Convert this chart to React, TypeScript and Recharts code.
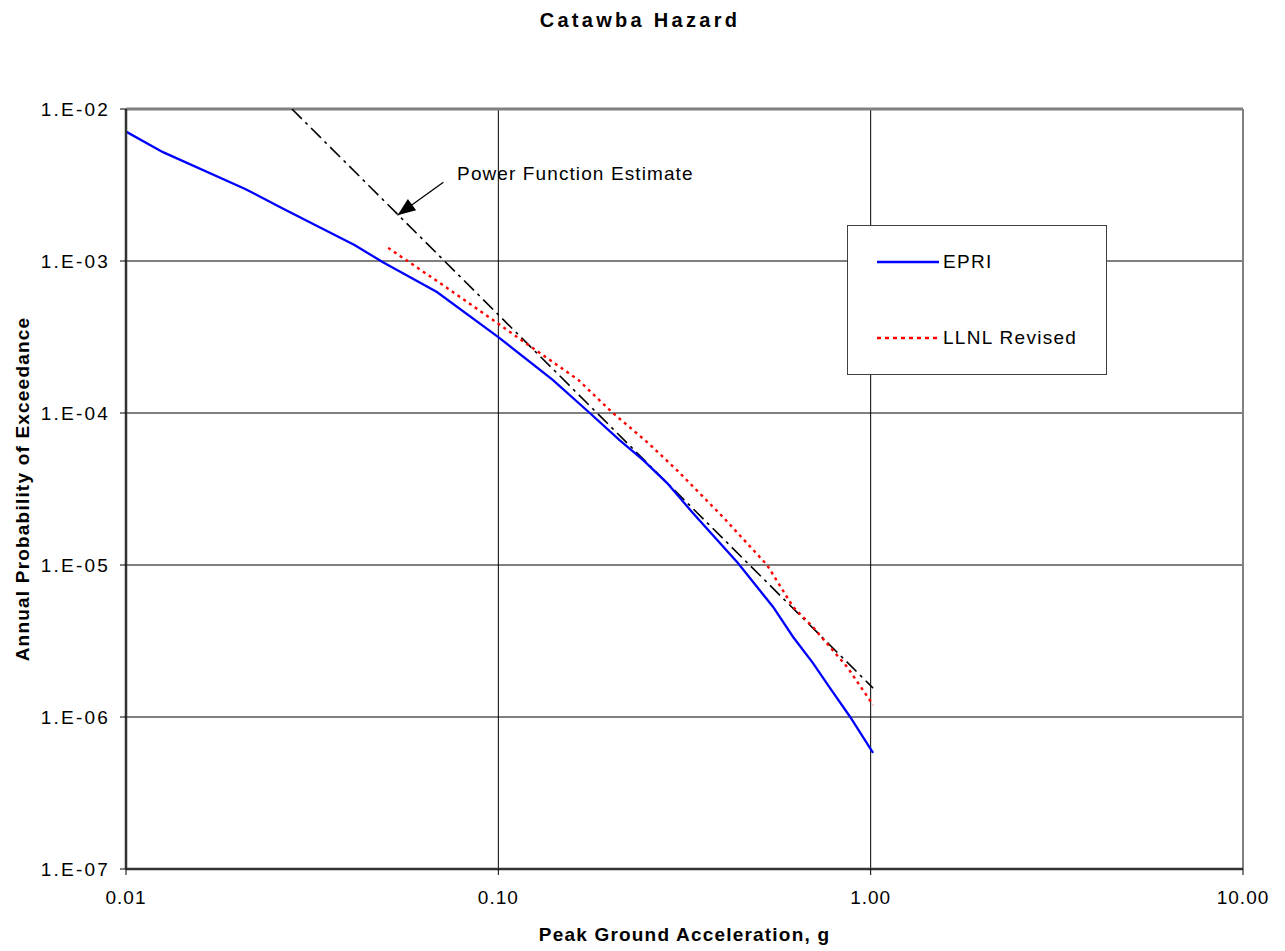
import React from 'react';
import {
    LineChart,
    Line,
    XAxis,
    YAxis,
    CartesianGrid,
    ReferenceLine,
    ReferenceDot,
} from 'recharts';

// EPRI hazard curve (peak ground acceleration, g / annual probability)
const epriX = [0.01, 0.01257, 0.0209, 0.0262, 0.0412, 0.049, 0.0684, 0.1, 0.14, 0.176, 0.212, 0.245, 0.284, 0.333, 0.44, 0.547, 0.619, 0.7, 0.778, 0.881, 1.015];
const epriY = [7.1e-3, 5.2e-3, 2.98e-3, 2.23e-3, 1.27e-3, 9.8e-4, 6.25e-4, 3.16e-4, 1.65e-4, 1.0e-4, 6.6e-5, 4.9e-5, 3.46e-5, 2.2e-5, 1.03e-5, 5.3e-6, 3.36e-6, 2.26e-6, 1.55e-6, 1.0e-6, 5.8e-7];

// LLNL revised curve
const llnlX = [0.0506, 0.0742, 0.1075, 0.164, 0.203, 0.251, 0.302, 0.401, 0.527, 0.619, 0.7, 0.865, 1.015];
const llnlY = [1.22e-3, 6.45e-4, 3.41e-4, 1.65e-4, 1.0e-4, 6.44e-5, 4.2e-5, 2.07e-5, 1.0e-5, 5.3e-6, 3.9e-6, 2.13e-6, 1.2e-6];

// power function estimate (straight on log-log, two end points)
const powerX = [0.0279, 1.015];
const powerY = [1.0e-2, 1.55e-6];

const xTicks = [0.01, 0.1, 1, 10];
const xTickLabels = ['0.01', '0.10', '1.00', '10.00'];
const yTicks = [1e-7, 1e-6, 1e-5, 1e-4, 1e-3, 1e-2];
const yTickLabels = ['1.E-07', '1.E-06', '1.E-05', '1.E-04', '1.E-03', '1.E-02'];

// annotation anchor points
const arrowTip = { x: 0.0536, y: 2.0e-3 };
const arrowTail = { x: 0.0712, y: 3.3e-3 };
const noteAt = { x: 0.0775, y: 3.79e-3 };
const noteText = 'Power Function Estimate';

const toPoints = (xs: number[], ys: number[]) => xs.map((x, i) => ({ x, y: ys[i] }));

const epriData = toPoints(epriX, epriY);
const llnlData = toPoints(llnlX, llnlY);
const powerData = toPoints(powerX, powerY);

const FONT = '"Liberation Sans", Arial, sans-serif';

const ArrowHead = (props: any) => {
    const { cx, cy } = props;
    // pointing from tail toward tip (down-left)
    const ang = Math.atan2(-33, 45);
    const len = 18;
    const half = 7;
    const bx = cx + Math.cos(ang) * len;
    const by = cy + Math.sin(ang) * len;
    const px = -Math.sin(ang) * half;
    const py = Math.cos(ang) * half;
    return (
        <polygon
            points={`${cx},${cy} ${bx + px},${by + py} ${bx - px},${by - py}`}
            fill="#000"
        />
    );
};

const NoteText = (props: any) => (
    <text
        x={props.cx}
        y={props.cy}
        dominantBaseline="central"
        fontSize={19}
        letterSpacing={1.1}
        fill="#000"
        fontFamily={FONT}
    >
        {noteText}
    </text>
);

const legendItems = [
    { name: 'EPRI', color: '#0000ff', dash: undefined, top: 36 },
    { name: 'LLNL Revised', color: '#ff0000', dash: '4 4', top: 112 },
];

const App: React.FC = () => {
    return (
        <div style={{ position: 'absolute', left: 0, top: 0, width: 1285, height: 951, background: '#fff', fontFamily: FONT }}>
            <div
                style={{
                    position: 'absolute',
                    left: 0,
                    top: 10,
                    width: 1280,
                    textAlign: 'center',
                    fontSize: 20,
                    lineHeight: '20px',
                    fontWeight: 'bold',
                    letterSpacing: 3.3,
                }}
            >
                Catawba Hazard
            </div>
            <LineChart
                width={1285}
                height={951}
                margin={{ top: 109, right: 42, bottom: 0, left: 0 }}
                style={{ fontFamily: FONT }}
            >
                <CartesianGrid stroke="#000" strokeWidth={1} horizontalValues={yTicks} verticalValues={xTicks} />
                <XAxis
                    dataKey="x"
                    type="number"
                    scale="log"
                    domain={[0.01, 10]}
                    ticks={xTicks}
                    allowDataOverflow
                    height={82}
                    tickSize={6}
                    tickMargin={16}
                    tickFormatter={(v: number, i: number) => xTickLabels[i]}
                    tick={{ fill: '#000', fontSize: 19, letterSpacing: 1 }}
                    axisLine={{ stroke: '#333', strokeWidth: 2.5 }}
                    tickLine={{ stroke: '#000' }}
                    label={{
                        value: 'Peak Ground Acceleration, g',
                        position: 'insideBottom',
                        offset: 10,
                        style: { fontWeight: 'bold', fontSize: 19, letterSpacing: 1.2, fill: '#000' },
                    }}
                />
                <YAxis
                    type="number"
                    scale="log"
                    domain={[1e-7, 1e-2]}
                    ticks={yTicks}
                    allowDataOverflow
                    width={126}
                    tickSize={6}
                    tickMargin={10}
                    tickFormatter={(v: number, i: number) => yTickLabels[i]}
                    tick={{ fill: '#000', fontSize: 19, letterSpacing: 2.2 }}
                    axisLine={{ stroke: '#333', strokeWidth: 2.5 }}
                    tickLine={{ stroke: '#000' }}
                    label={{
                        value: 'Annual Probability of Exceedance',
                        angle: -90,
                        position: 'insideLeft',
                        offset: 22,
                        style: { textAnchor: 'middle', fontWeight: 'bold', fontSize: 19, letterSpacing: 1.2, fill: '#000' },
                    }}
                />
                <ReferenceLine y={1e-2} stroke="#808080" strokeWidth={3} />
                <ReferenceLine x={10} stroke="#808080" strokeWidth={2} />
                <Line
                    data={powerData}
                    dataKey="y"
                    type="linear"
                    stroke="#000"
                    strokeWidth={1.6}
                    strokeDasharray="14 5 3 5"
                    dot={false}
                    isAnimationActive={false}
                />
                <Line
                    data={llnlData}
                    dataKey="y"
                    type="linear"
                    stroke="#ff0000"
                    strokeWidth={2.4}
                    strokeDasharray="3 4"
                    dot={false}
                    isAnimationActive={false}
                />
                <Line
                    data={epriData}
                    dataKey="y"
                    type="linear"
                    stroke="#0000ff"
                    strokeWidth={2.3}
                    dot={false}
                    isAnimationActive={false}
                />
                <ReferenceLine
                    segment={[arrowTail, arrowTip]}
                    stroke="#000"
                    strokeWidth={1.3}
                />
                <ReferenceDot x={arrowTip.x} y={arrowTip.y} shape={ArrowHead} />
                <ReferenceDot x={noteAt.x} y={noteAt.y} shape={NoteText} />
            </LineChart>
            <div
                style={{
                    position: 'absolute',
                    left: 847,
                    top: 225,
                    width: 260,
                    height: 150,
                    boxSizing: 'border-box',
                    border: '1px solid #404040',
                    background: '#fff',
                }}
            >
                {legendItems.map((it) => (
                    <div
                        key={it.name}
                        style={{
                            position: 'absolute',
                            left: 29,
                            top: it.top - 10,
                            height: 20,
                            display: 'flex',
                            alignItems: 'center',
                            fontSize: 19,
                            letterSpacing: 1.3,
                            whiteSpace: 'nowrap',
                        }}
                    >
                        <svg width={62} height={20} style={{ display: 'block' }}>
                            <line x1={0} y1={10} x2={62} y2={10} stroke={it.color} strokeWidth={2.6} strokeDasharray={it.dash} />
                        </svg>
                        <span style={{ marginLeft: 4 }}>{it.name}</span>
                    </div>
                ))}
            </div>
        </div>
    );
};

export default App;
